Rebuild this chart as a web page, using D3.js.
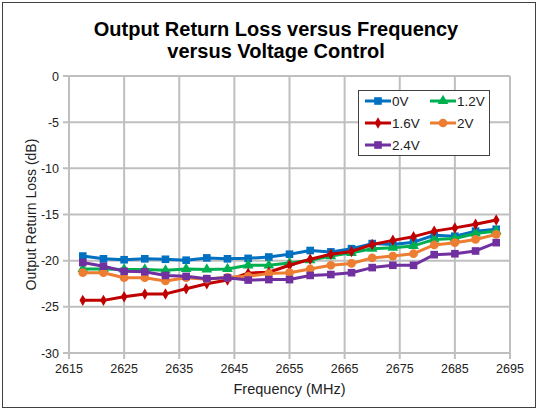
<!DOCTYPE html>
<html>
<head>
<meta charset="utf-8">
<script src="https://cdn.jsdelivr.net/npm/d3@7"></script>
<style>
body { margin: 0; background: #fff; }
text { font-family: Arial, "Liberation Sans", sans-serif; }
</style>
</head>
<body>
<svg id="chart" width="539" height="411"></svg>
<script>
// frequency points (MHz)
var freqs = [2617.5, 2621.25, 2625, 2628.75, 2632.5, 2636.25, 2640, 2643.75, 2647.5, 2651.25,
             2655, 2658.75, 2662.5, 2666.25, 2670, 2673.75, 2677.5, 2681.25, 2685, 2688.75, 2692.5];

var v0  = [-19.5, -19.8, -19.9, -19.8, -19.85, -19.95, -19.7, -19.8, -19.75, -19.6, -19.3,
           -18.9, -19.05, -18.7, -18.15, -18.25, -18.0, -17.25, -17.35, -16.8, -16.6];
var v12 = [-20.9, -20.9, -20.95, -20.95, -21.05, -20.9, -20.95, -20.9, -20.5, -20.5, -20.25,
           -19.95, -19.5, -19.15, -18.7, -18.6, -18.4, -17.7, -17.6, -17.05, -16.8];
var v16 = [-24.3, -24.3, -23.9, -23.6, -23.6, -23.05, -22.5, -22.1, -21.35, -21.25, -20.5,
           -19.85, -19.3, -19.0, -18.25, -17.8, -17.4, -16.8, -16.45, -16.05, -15.6];
var v20 = [-21.3, -21.3, -21.85, -21.85, -22.2, -21.85, -22.0, -21.8, -21.7, -21.4, -21.3,
           -20.9, -20.5, -20.3, -19.7, -19.5, -19.25, -18.3, -18.05, -17.7, -17.15];
var v24 = [-20.2, -20.6, -21.15, -21.2, -21.6, -21.7, -21.95, -21.85, -22.1, -22.05, -22.05,
           -21.6, -21.5, -21.3, -20.75, -20.5, -20.5, -19.35, -19.25, -18.95, -18.05];

var seriesNames = ["0V", "1.2V", "1.6V", "2V", "2.4V"];
var xTicks = [2615, 2625, 2635, 2645, 2655, 2665, 2675, 2685, 2695];
var yTicks = [0, -5, -10, -15, -20, -25, -30];

var colors = {"0V": "#0070C0", "1.2V": "#00B050", "1.6V": "#C00000", "2V": "#ED7D31", "2.4V": "#7030A0"};
var shapes = {"0V": "square", "1.2V": "triangle", "1.6V": "diamond", "2V": "circle", "2.4V": "square"};

var series = [
  {name: "0V", vals: v0},
  {name: "1.2V", vals: v12},
  {name: "1.6V", vals: v16},
  {name: "2V", vals: v20},
  {name: "2.4V", vals: v24}
];

var svg = d3.select("#chart");

// outer frame
svg.append("rect").attr("x", 2.5).attr("y", 2.5).attr("width", 533).attr("height", 405)
   .attr("fill", "#fff").attr("stroke", "#404040").attr("stroke-width", 1);

var pL = 69, pR = 510, pT = 76, pB = 353;

var x = d3.scaleLinear().domain([2615, 2695]).range([pL, pR]);
var y = d3.scaleLinear().domain([-30, 0]).range([pB, pT]);

// title
svg.append("text").attr("x", 276).attr("y", 36).attr("text-anchor", "middle")
   .attr("font-size", 20).attr("font-weight", "bold").text("Output Return Loss versus Frequency");
svg.append("text").attr("x", 276).attr("y", 58).attr("text-anchor", "middle")
   .attr("font-size", 20).attr("font-weight", "bold").text("versus Voltage Control");

// grid
var grid = svg.append("g");
grid.selectAll(".gy").data(yTicks).enter().append("line")
  .attr("x1", pL - 6).attr("x2", pR)
  .attr("y1", function(d) { return y(d); }).attr("y2", function(d) { return y(d); })
  .attr("stroke", "#BFBFBF").attr("stroke-width", 2);
grid.selectAll(".gx").data(xTicks).enter().append("line")
  .attr("y1", pT).attr("y2", pB + 6)
  .attr("x1", function(d) { return x(d); }).attr("x2", function(d) { return x(d); })
  .attr("stroke", "#BFBFBF").attr("stroke-width", 2);

// tick labels
svg.selectAll(".yl").data(yTicks).enter().append("text")
  .attr("x", pL - 10).attr("y", function(d) { return y(d) + 4.5; })
  .attr("text-anchor", "end").attr("font-size", 12.5).attr("fill", "#222")
  .text(function(d) { return d; });
svg.selectAll(".xl").data(xTicks).enter().append("text")
  .attr("x", function(d) { return x(d); }).attr("y", pB + 20)
  .attr("text-anchor", "middle").attr("font-size", 12.5).attr("fill", "#222")
  .text(function(d) { return d; });

// axis titles
svg.append("text").attr("x", (pL + pR) / 2).attr("y", 394).attr("text-anchor", "middle")
   .attr("font-size", 14.5).attr("fill", "#222").text("Frequency (MHz)");
svg.append("text").attr("transform", "translate(36," + ((pT + pB) / 2) + ") rotate(-90)")
   .attr("text-anchor", "middle").attr("font-size", 14).attr("fill", "#222")
   .text("Output Return Loss (dB)");

function symbolFor(name) {
  var s = shapes[name];
  if (s == "square") return d3.symbol().type(d3.symbolSquare).size(58)();
  if (s == "triangle") return d3.symbol().type(d3.symbolTriangle).size(50)();
  if (s == "diamond") return d3.symbol().type(d3.symbolDiamond).size(38)();
  return d3.symbol().type(d3.symbolCircle).size(60)();
}

var line = d3.line()
  .x(function(d, i) { return x(freqs[i]); })
  .y(function(d) { return y(d); });

var plot = svg.append("g");
series.forEach(function(s) {
  plot.append("path").datum(s.vals)
    .attr("d", line).attr("fill", "none")
    .attr("stroke", colors[s.name]).attr("stroke-width", 3).attr("stroke-linejoin", "round");
  plot.selectAll(".m" + s.name.replace(".", "")).data(s.vals).enter().append("path")
    .attr("d", symbolFor(s.name))
    .attr("transform", function(d, i) { return "translate(" + x(freqs[i]) + "," + y(d) + ")"; })
    .attr("fill", colors[s.name]);
});

// legend
var lg = svg.append("g");
lg.append("rect").attr("x", 358.5).attr("y", 90.5).attr("width", 131).attr("height", 65)
  .attr("fill", "#fff").attr("stroke", "#404040").attr("stroke-width", 1);
var legendPos = [[365, 101], [430, 101], [365, 123], [430, 123], [365, 145]];
seriesNames.forEach(function(n, i) {
  var p = legendPos[i];
  lg.append("line").attr("x1", p[0]).attr("x2", p[0] + 26).attr("y1", p[1]).attr("y2", p[1])
    .attr("stroke", colors[n]).attr("stroke-width", 3);
  lg.append("path").attr("d", symbolFor(n))
    .attr("transform", "translate(" + (p[0] + 13) + "," + p[1] + ")").attr("fill", colors[n]);
  lg.append("text").attr("x", p[0] + 27).attr("y", p[1] + 5).attr("font-size", 13.5).attr("fill", "#222")
    .text(n);
});
</script>
</body>
</html>
